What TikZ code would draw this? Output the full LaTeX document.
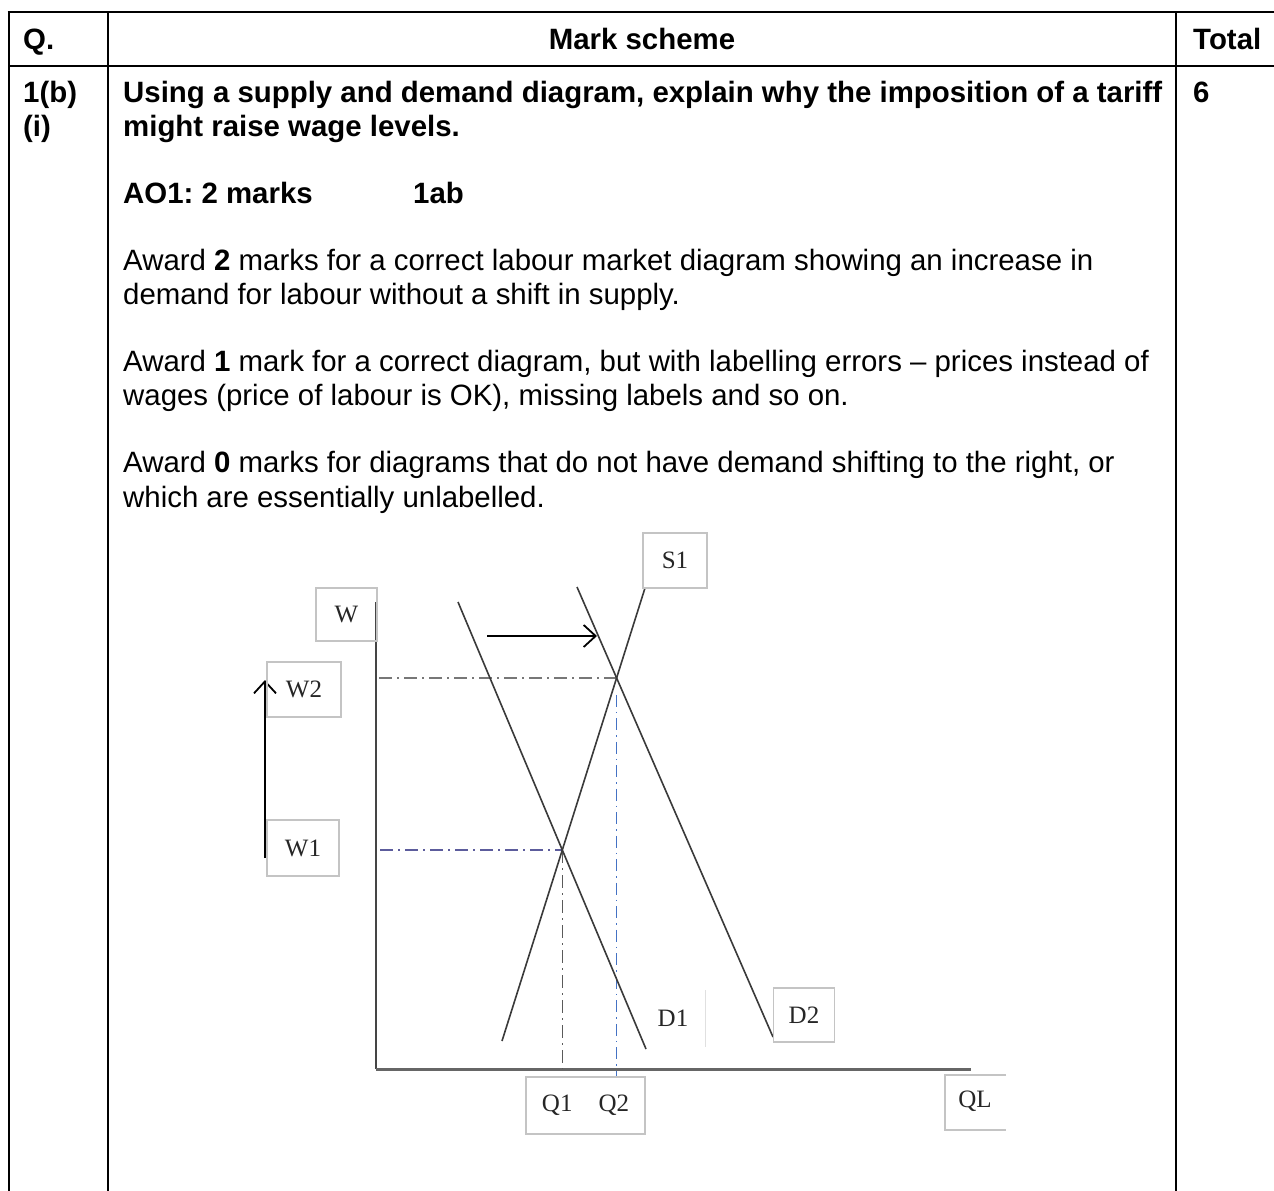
\documentclass[tikz,border=0pt]{standalone}
\usepackage{fontspec}
\setmainfont{Liberation Sans}
\newfontfamily\diagserif{Liberation Serif}
\usetikzlibrary{arrows.meta,calc}
\frenchspacing
\definecolor{boxgray}{HTML}{C4C4C4}
\definecolor{curvecol}{HTML}{3A3A3A}
\definecolor{axiscol}{HTML}{454545}
\definecolor{xaxiscol}{HTML}{666666}
\definecolor{wtwocol}{HTML}{777777}
\definecolor{wonecol}{HTML}{5C5C9C}
\definecolor{qonecol}{HTML}{5A5A5A}
\definecolor{qtwocol}{HTML}{4472C4}
\tikzset{
  tbl/.style={line width=2.6pt, black},
  txt/.style={anchor=base west, inner sep=0pt, font=\fontsize{29.4}{34}\selectfont},
  lblbox/.style={draw=boxgray, line width=1.2pt, inner sep=0pt, font=\diagserif\fontsize{25}{27}\selectfont, text=black!85},
  lbltxt/.style={inner sep=0pt, font=\diagserif\fontsize{25}{27}\selectfont, text=black!85},
  curve/.style={draw=curvecol, line width=1.6pt},
  dashdot/.style={line width=1.4pt, dash pattern=on 13pt off 5pt on 2pt off 5pt},
  shiftarrow/.style={line width=1.8pt, black, -{Straight Barb[length=12pt,width=22pt,line width=1.8pt]}}
}
\begin{document}
\begin{tikzpicture}[x=1pt,y=-1pt]
\useasboundingbox (0,0) rectangle (1274,1191);
\fill[white] (0,0) rectangle (1274,1191);

% table
\draw[tbl] (7.7,12) -- (1274,12);
\draw[tbl] (9,12) -- (9,1191);
\draw[tbl] (108,12) -- (108,1191);
\draw[tbl] (1176,12) -- (1176,1191);
\draw[tbl] (9,66) -- (1274,66);

% header
\node[txt] (hq) at (23,49) {\bfseries Q.};
\node[txt, anchor=base] (hms) at (642,49) {\bfseries Mark scheme};
\node[txt] (htot) at (1193,49) {\bfseries Total};

% row
\node[txt] (q1) at (23,102) {\bfseries 1(b)};
\node[txt] (q2) at (23,136) {\bfseries (i)};
\node[txt] (t1) at (123,102) {\bfseries Using a supply and demand diagram, explain why the imposition of a tariff};
\node[txt] (t2) at (123,136) {\bfseries might raise wage levels.};
\node[txt] (tot) at (1193,102) {\bfseries 6};
\node[txt] (ao) at (123,203) {\bfseries AO1: 2 marks};
\node[txt] (ab) at (413,203) {\bfseries 1ab};
\node[txt] (a21) at (123,270) {Award \textbf{2} marks for a correct labour market diagram showing an increase in};
\node[txt] (a22) at (123,304) {demand for labour without a shift in supply.};
\node[txt] (a11) at (123,371) {Award \textbf{1} mark for a correct diagram, but with labelling errors -- prices instead of};
\node[txt] (a12) at (123,405) {wages (price of labour is OK), missing labels and so on.};
\node[txt] (a01) at (123,472) {Award \textbf{0} marks for diagrams that do not have demand shifting to the right, or};
\node[txt] (a02) at (123,507) {which are essentially unlabelled.};

% diagram coordinates
\coordinate (D1a) at (458,602);
\coordinate (D1b) at (646,1049);
\coordinate (D2a) at (577,587);
\coordinate (D2b) at (773,1037);
\coordinate (S1a) at (502,1041);
\coordinate (S1b) at (645,588);
\coordinate (E1) at (intersection of D1a--D1b and S1a--S1b);
\coordinate (E2) at (intersection of D2a--D2b and S1a--S1b);
\coordinate (Ytop) at (376,602);
\coordinate (Origin) at (376,1069);
\coordinate (Xend) at (971,1069);
\coordinate (Q2bot) at (0,1078);

% axes
\draw[draw=axiscol, line width=2pt] (Ytop) -- (Origin);
\draw[draw=xaxiscol, line width=3pt] (Origin) -- (Xend);

% dash-dot guides
\draw[dashdot, draw=wtwocol] (Ytop |- E2) ++(3,0) -- (E2);
\draw[dashdot, draw=wonecol] (Ytop |- E1) ++(4,0) -- (E1);
\draw[dashdot, draw=qonecol] (E1) -- (E1 |- Origin);
\draw[dashdot, draw=qtwocol, dash pattern=on 12pt off 5pt on 1.5pt off 5pt] ([yshift=-17pt]E2) -- (E2 |- Q2bot);

% curves
\draw[curve] (D1a) -- (D1b);
\draw[curve] (D2a) -- (D2b);
\draw[curve] (S1a) -- (S1b);

% shift arrows
\coordinate (ArA) at (487,636);
\coordinate (ArB) at (597,636);
\draw[shiftarrow] (ArA) -- (ArB);
\coordinate (UpA) at (265,858);
\coordinate (UpB) at (265,680);
\draw[shiftarrow] (UpA) -- (UpB);

% labels
\node[lblbox, minimum width=61pt, minimum height=53pt] (W) at (346.5,614.5) {W\hspace{8pt}};
\node[lblbox, minimum width=64pt, minimum height=55pt] (S1) at (675,560.5) {S1};
\node[lblbox, minimum width=74pt, minimum height=55pt] (W2) at (304,689.5) {W2\hspace{10pt}};
\node[lblbox, minimum width=72pt, minimum height=56pt] (W1) at (303,848) {W1\hspace{10pt}};
\node[lblbox, minimum width=61pt, minimum height=54pt] (D2) at (804,1015) {D2};
\node[lblbox, minimum width=119pt, minimum height=57pt] (Q) at (585.5,1105.5) {Q1\hspace{26pt}Q2};
\node[lbltxt] (D1) at (673,1018) {D1};
\draw[draw=black!12, line width=1pt] (705,990) -- (705,1047);
\node[lbltxt] (QL) at (975,1101) {QL};
\draw[draw=boxgray, line width=1.2pt] (1006,1075) -- (945,1075) -- (945,1130) -- (1006,1130);
\end{tikzpicture}
\end{document}
